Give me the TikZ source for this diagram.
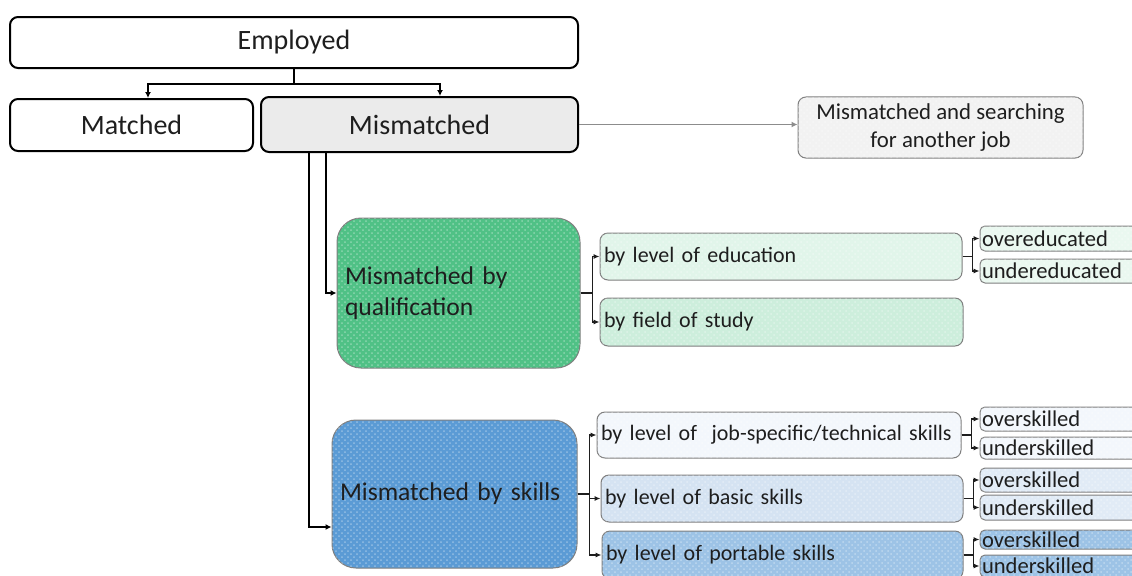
\documentclass[tikz,border=0pt]{standalone}
\usepackage{fontspec}
\setmainfont{Carlito}
\usetikzlibrary{arrows.meta,patterns}

\definecolor{ink}{HTML}{1E1E1E}
\definecolor{rim}{HTML}{7F7F7F}
\definecolor{qualgreen}{HTML}{50C186}
\definecolor{edugreen}{HTML}{E1F5EA}
\definecolor{fieldgreen}{HTML}{CDEEDC}
\definecolor{skillblue}{HTML}{5B9BD5}
\definecolor{jobblue}{HTML}{F3F7FC}
\definecolor{basicblue}{HTML}{D5E3F2}
\definecolor{portblue}{HTML}{9DC3E6}

\tikzset{
	top/.style={draw=black, line width=1pt, rounded corners=4pt, text=ink,
		font=\fontsize{14}{16}\selectfont},
	tone/.style={draw=rim, line width=0.5pt, text=ink, fill=#1,
		postaction={pattern=crosshatch dots, pattern color=white, fill opacity=0.35}},
	lead/.style={tone=#1, rounded corners=12pt, align=left, inner xsep=4pt,
		font=\fontsize{12.8}{15.5}\selectfont},
	branch/.style={tone=#1, rounded corners=4pt, align=left, inner xsep=2pt,
		font=\fontsize{11}{13}\selectfont},
	leaf/.style={tone=#1, rounded corners=2.5pt, align=left, inner xsep=1pt, inner ysep=0pt,
		text width=83pt, font=\fontsize{11.3}{13}\selectfont},
	arr/.style={-{Latex[length=3pt,width=3pt]}, line width=1pt, draw=black},
	thinarr/.style={-{Latex[length=3pt,width=2.6pt]}, line width=0.6pt, draw=ink},
}

\begin{document}
\begin{tikzpicture}[x=0.5pt, y=-0.5pt]
	\useasboundingbox (0,0) rectangle (1132,575);
	\clip (0,0) rectangle (1132,575);

	\node[top, minimum width=284pt, minimum height=25.5pt] (emp) at (294,42.5) {Employed};
	\node[top, minimum width=121.5pt, minimum height=26pt] (match) at (131.5,125) {Matched};
	\node[top, fill=black!8, minimum width=158.5pt, minimum height=27.5pt] (mism) at (419.5,124.5) {Mismatched};
	\node[tone=black!5, rounded corners=4pt, align=center, minimum width=142.5pt, minimum height=30.5pt,
		font=\fontsize{11.4}{14}\selectfont] (search) at (940.5,127.5) {Mismatched and searching\\for another job};

	\node[lead=qualgreen, text width=113.5pt, minimum height=75pt] (qual) at (458.5,293) {Mismatched by\\qualification};
	\node[lead=skillblue, text width=114.5pt, minimum height=74pt] (skill) at (454.5,494) {Mismatched by skills};

	\node[branch=edugreen, text width=177pt, minimum height=23.5pt] (edu) at (781,256.5) {by level of education};
	\node[branch=fieldgreen, text width=177.5pt, minimum height=24pt] (field) at (781.5,322) {by field of study};
	\node[branch=jobblue, text width=178pt, minimum height=23pt] (job) at (779,435) {by level of \ job-specific/technical skills};
	\node[branch=basicblue, text width=177pt, minimum height=23.5pt] (basic) at (782,498.5) {by level of basic skills};
	\node[branch=portblue, text width=176.5pt, minimum height=24pt] (port) at (782.5,555) {by level of portable skills};

	\node[leaf=edugreen!70, minimum height=12.5pt] (over1) at (1065,238.5) {overeducated};
	\node[leaf=edugreen!70, minimum height=12pt] (under1) at (1065,271) {undereducated};
	\node[leaf=jobblue, minimum height=12pt] (over2) at (1065,419) {overskilled};
	\node[leaf=jobblue, minimum height=11pt] (under2) at (1065,448) {underskilled};
	\node[leaf=jobblue!40!basicblue, minimum height=12pt] (over3) at (1065,480) {overskilled};
	\node[leaf=jobblue!40!basicblue, minimum height=12.5pt] (under3) at (1065,507.5) {underskilled};
	\node[leaf=portblue, minimum height=9.5pt] (over4) at (1065,539.5) {overskilled};
	\node[leaf=portblue, minimum height=11pt] (under4) at (1065,566) {underskilled};

	\draw[line width=1pt] (emp.south) -- ++(0,15) coordinate (split);
	\draw[arr] (split) -| ([xshift=8.25pt]match.north);
	\draw[arr] (split) -| ([xshift=10.25pt]mism.north);
	\draw[-{Latex[length=3pt,width=3pt]}, line width=0.7pt, draw=black!45] (mism.east) -- (mism.east -| search.west);

	\draw[arr] ([xshift=33pt]mism.south west) |- (qual.west);
	\draw[arr] ([xshift=24.5pt]mism.south west) |- ([yshift=-16.5pt]skill.west);

	\draw[thinarr] (qual.east) -- ++(12,0) |- (edu.west);
	\draw[thinarr] (qual.east) -- ++(12,0) |- (field.west);
	\draw[thinarr] (skill.east) -- ++(12,0) |- (job.west);
	\draw[thinarr] (skill.east) -- ++(12,0) |- (basic.west);
	\draw[thinarr] (skill.east) -- ++(12,0) |- (port.west);

	\foreach \a/\b in {edu/1, job/2, basic/3, port/4}{
		\draw[thinarr] (\a.east) -- ++(10,0) |- (over\b.west);
		\draw[thinarr] (\a.east) -- ++(10,0) |- (under\b.west);
	}
\end{tikzpicture}
\end{document}
